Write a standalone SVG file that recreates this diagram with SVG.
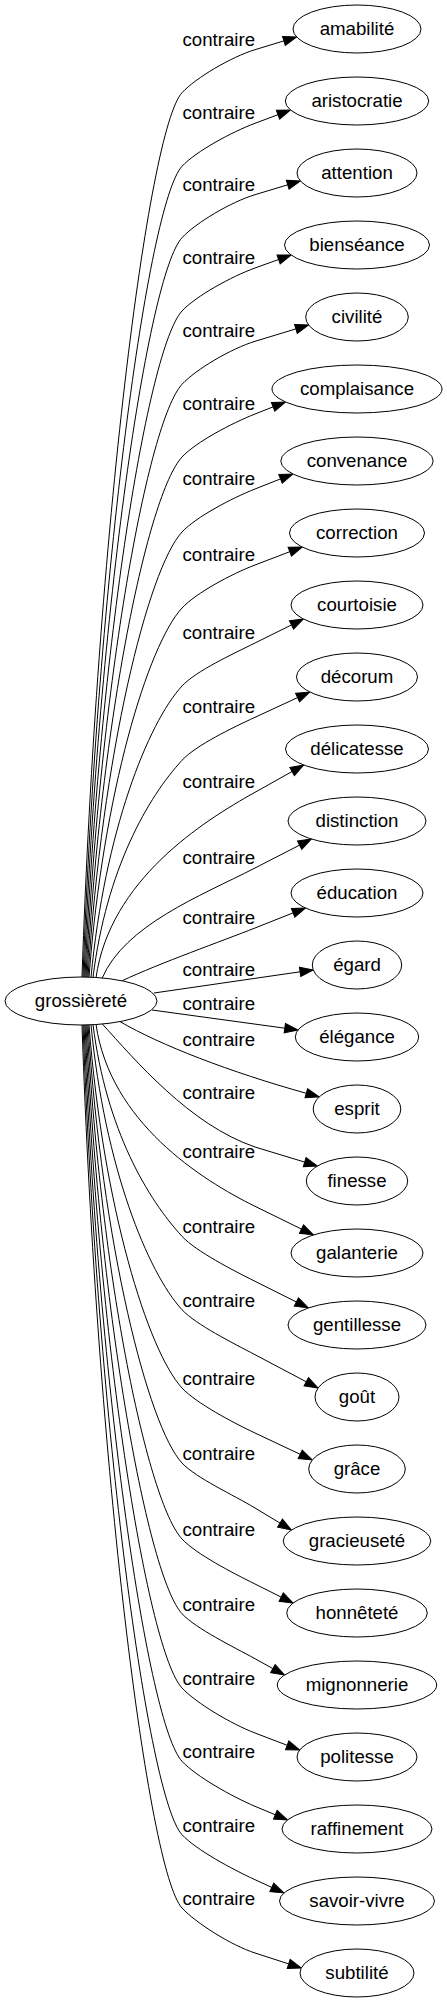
<svg xmlns="http://www.w3.org/2000/svg" width="447" height="2003" viewBox="0 0 447 2003">
<style>
.n ellipse{fill:#fff;stroke:#000;stroke-width:1}
text{font-family:"Liberation Sans",Arial,sans-serif;font-size:18.67px;fill:#000;text-anchor:middle}
.e path{fill:none;stroke:#000;stroke-width:1;marker-end:url(#ah)}
</style>
<defs>
<marker id="ah" markerWidth="14" markerHeight="10" refX="0" refY="4.7" orient="auto" markerUnits="userSpaceOnUse" overflow="visible">
<path d="M0,0 L13.3,4.7 L0,9.4 z" fill="#000" stroke="#000" stroke-width="1"/>
</marker>
</defs>
<rect width="447" height="2003" fill="#fff"/>
<g id="edges" class="e">
<path d="M82,977 C97,534.9 148,129.7 182,92.7 C196,77.7 231.1,57 255,49.7 L283.9,40.9"/>
<path d="M83,977 C97.9,571.7 148,203.3 182,166.3 C196,151.3 231.6,132.1 255,123.3 L278,114.7"/>
<path d="M84,977 C98.7,607.4 148,274.7 182,237.7 C196,222.7 231.1,201.9 255,194.7 L287.7,184.8"/>
<path d="M85,977 C99.6,644 148,348 182,311 C196,296 231.5,276.5 255,268 L278.6,259.5"/>
<path d="M86,977 C100.4,680.7 148,421.3 182,384.3 C196,369.3 231.1,348.6 255,341.3 L295.9,328.9"/>
<path d="M87,977 C101.3,717 148,494 182,457 C196,442 231.8,423.2 255,414 L273.1,406.9"/>
<path d="M88,977 C102.1,754.5 148,569 182,532 C196,517 231.8,498.2 255,489 L280.5,478.9"/>
<path d="M89,977.1 C103,792.6 148,645 182,608 C196,593 231.6,573.9 255,565 L289.8,551.7"/>
<path d="M91,977.2 C104.7,831.6 148,723 182,686 C196,671 232.6,654.1 255,643 L291.5,624.9"/>
<path d="M93,977.4 C106.4,868.9 148,797.3 182,760.3 C196,745.3 232.3,727.8 255,717.3 L297.6,697.6"/>
<path d="M96,977.7 C110,880 202.6,821.6 255,792.3 L292.1,771.5"/>
<path d="M102,978.4 C125,925 199.8,896.3 255,868 L299.6,845.1"/>
<path d="M122,980.8 C160,963 222.5,940.9 255,928 L293.1,912.9"/>
<path d="M154,993 L300.1,971.8"/>
<path d="M152,1010 L284.8,1028.2"/>
<path d="M120,1021.6 C160,1045 230,1072 306.3,1093.3"/>
<path d="M102,1023.6 C135,1060 190,1125 255,1147 L304.7,1162.1"/>
<path d="M96,1024.3 C110,1122 201.2,1179.8 255,1206.3 L301.5,1229.1"/>
<path d="M93,1024.6 C106.4,1130.5 148,1199.3 182,1236.3 C196,1251.3 232.6,1270.1 255,1281.3 L296.4,1302"/>
<path d="M91,1024.8 C104.7,1167.3 148,1272.7 182,1309.7 C196,1324.7 232.9,1343 255,1354.7 L306.3,1381.8"/>
<path d="M89,1024.9 C103,1206.5 148,1351 182,1388 C196,1403 232.4,1422.3 255,1433 L300.2,1454.3"/>
<path d="M88,1025 C102.1,1244 148,1426 182,1463 C196,1478 233.6,1495 255,1508 L280,1523.1"/>
<path d="M87,1025 C101.3,1282 148,1502 182,1539 C196,1554 232.6,1572.9 255,1584 L281.2,1597.1"/>
<path d="M86,1025 C100.4,1319.4 148,1576.7 182,1613.7 C196,1628.7 233.1,1646.7 255,1658.7 L272.9,1668.6"/>
<path d="M85,1025 C99.6,1356.5 148,1651 182,1688 C196,1703 231.6,1724.1 255,1733 L287.2,1745.3"/>
<path d="M84,1025 C98.7,1393.2 148,1724.3 182,1761.3 C196,1776.3 232,1796.6 255,1806.3 L275.3,1814.8"/>
<path d="M83,1025 C97.9,1429.9 148,1797.7 182,1834.7 C196,1849.7 232.3,1869.3 255,1879.7 L271.8,1887.4"/>
<path d="M82,1025 C97,1466.5 148,1871 182,1908 C196,1923 231.2,1945.3 255,1953 L288.7,1963.9"/>
</g>
<g id="edge-labels">
<text x="218.8" y="45.7">contraire</text>
<text x="218.8" y="119.3">contraire</text>
<text x="218.8" y="190.7">contraire</text>
<text x="218.8" y="264">contraire</text>
<text x="218.8" y="337.3">contraire</text>
<text x="218.8" y="410">contraire</text>
<text x="218.8" y="485">contraire</text>
<text x="218.8" y="561">contraire</text>
<text x="218.8" y="639">contraire</text>
<text x="218.8" y="713.3">contraire</text>
<text x="218.8" y="788.3">contraire</text>
<text x="218.8" y="864">contraire</text>
<text x="218.8" y="924">contraire</text>
<text x="218.8" y="975.7">contraire</text>
<text x="218.8" y="1010">contraire</text>
<text x="218.8" y="1046">contraire</text>
<text x="218.8" y="1099">contraire</text>
<text x="218.8" y="1158.3">contraire</text>
<text x="218.8" y="1233.3">contraire</text>
<text x="218.8" y="1306.7">contraire</text>
<text x="218.8" y="1385">contraire</text>
<text x="218.8" y="1460">contraire</text>
<text x="218.8" y="1536">contraire</text>
<text x="218.8" y="1610.7">contraire</text>
<text x="218.8" y="1685">contraire</text>
<text x="218.8" y="1758.3">contraire</text>
<text x="218.8" y="1831.7">contraire</text>
<text x="218.8" y="1905">contraire</text>
</g>
<g id="node-grossierete" class="n"><ellipse cx="81" cy="1001" rx="76" ry="24"/><text x="81" y="1007">grossièreté</text></g>
<g id="node-amabilite" class="n"><ellipse cx="357" cy="29" rx="64" ry="24"/><text x="357" y="35">amabilité</text></g>
<g id="node-aristocratie" class="n"><ellipse cx="357" cy="101" rx="71.7" ry="24"/><text x="357" y="107">aristocratie</text></g>
<g id="node-attention" class="n"><ellipse cx="357" cy="173" rx="60" ry="24"/><text x="357" y="179">attention</text></g>
<g id="node-bienseance" class="n"><ellipse cx="357" cy="245" rx="72.5" ry="24"/><text x="357" y="251">bienséance</text></g>
<g id="node-civilite" class="n"><ellipse cx="357" cy="317" rx="51.3" ry="24"/><text x="357" y="323">civilité</text></g>
<g id="node-complaisance" class="n"><ellipse cx="357" cy="389" rx="85" ry="24"/><text x="357" y="395">complaisance</text></g>
<g id="node-convenance" class="n"><ellipse cx="357" cy="461" rx="76.2" ry="24"/><text x="357" y="467">convenance</text></g>
<g id="node-correction" class="n"><ellipse cx="357" cy="533" rx="67.5" ry="24"/><text x="357" y="539">correction</text></g>
<g id="node-courtoisie" class="n"><ellipse cx="357" cy="605" rx="66" ry="24"/><text x="357" y="611">courtoisie</text></g>
<g id="node-decorum" class="n"><ellipse cx="357" cy="677" rx="60.5" ry="24"/><text x="357" y="683">décorum</text></g>
<g id="node-delicatesse" class="n"><ellipse cx="357" cy="749" rx="71.5" ry="24"/><text x="357" y="755">délicatesse</text></g>
<g id="node-distinction" class="n"><ellipse cx="357" cy="821" rx="69" ry="24"/><text x="357" y="827">distinction</text></g>
<g id="node-education" class="n"><ellipse cx="357" cy="893" rx="66" ry="24"/><text x="357" y="899">éducation</text></g>
<g id="node-egard" class="n"><ellipse cx="357" cy="965" rx="44.7" ry="24"/><text x="357" y="971">égard</text></g>
<g id="node-elegance" class="n"><ellipse cx="357" cy="1037" rx="61.7" ry="24"/><text x="357" y="1043">élégance</text></g>
<g id="node-esprit" class="n"><ellipse cx="357" cy="1109" rx="43.8" ry="24"/><text x="357" y="1115">esprit</text></g>
<g id="node-finesse" class="n"><ellipse cx="357" cy="1181" rx="50.7" ry="24"/><text x="357" y="1187">finesse</text></g>
<g id="node-galanterie" class="n"><ellipse cx="357" cy="1253" rx="66" ry="24"/><text x="357" y="1259">galanterie</text></g>
<g id="node-gentillesse" class="n"><ellipse cx="357" cy="1325" rx="69" ry="24"/><text x="357" y="1331">gentillesse</text></g>
<g id="node-gout" class="n"><ellipse cx="357" cy="1397" rx="42" ry="24"/><text x="357" y="1403">goût</text></g>
<g id="node-grace" class="n"><ellipse cx="357" cy="1469" rx="48.3" ry="24"/><text x="357" y="1475">grâce</text></g>
<g id="node-gracieusete" class="n"><ellipse cx="357" cy="1541" rx="73.8" ry="24"/><text x="357" y="1547">gracieuseté</text></g>
<g id="node-honnetete" class="n"><ellipse cx="357" cy="1613" rx="70.3" ry="24"/><text x="357" y="1619">honnêteté</text></g>
<g id="node-mignonnerie" class="n"><ellipse cx="357" cy="1685" rx="79.7" ry="24"/><text x="357" y="1691">mignonnerie</text></g>
<g id="node-politesse" class="n"><ellipse cx="357" cy="1757" rx="60" ry="24"/><text x="357" y="1763">politesse</text></g>
<g id="node-raffinement" class="n"><ellipse cx="357" cy="1829" rx="75" ry="24"/><text x="357" y="1835">raffinement</text></g>
<g id="node-savoir-vivre" class="n"><ellipse cx="357" cy="1901" rx="77.5" ry="24"/><text x="357" y="1907">savoir-vivre</text></g>
<g id="node-subtilite" class="n"><ellipse cx="357" cy="1973" rx="57" ry="24"/><text x="357" y="1979">subtilité</text></g>
</svg>
